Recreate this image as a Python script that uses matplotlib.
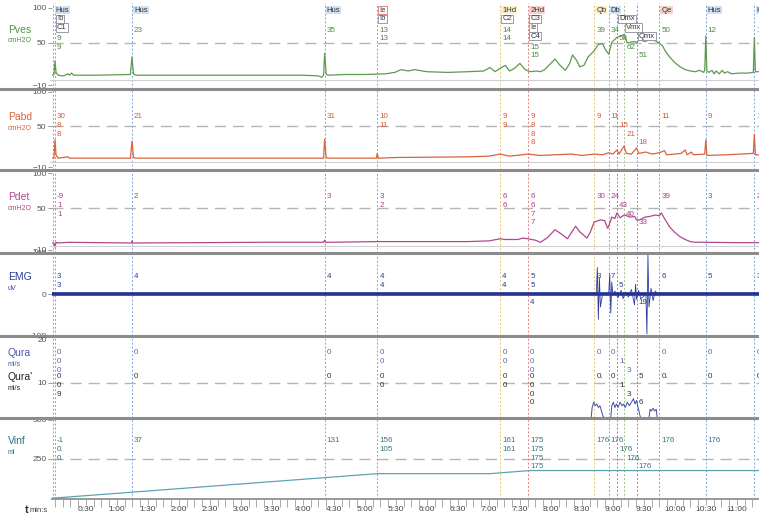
import matplotlib
matplotlib.use("Agg")
import matplotlib.pyplot as plt
from matplotlib.lines import Line2D
import matplotlib.transforms as mtransforms

plt.rcParams['font.family'] = ['Liberation Sans', 'DejaVu Sans']

W, H = 759, 517
T_MIN, T_MAX = -2.9, 681.5

# ---------------- data ----------------
pves_t = [-3, -1, 0, 1, 3, 8, 12.6, 14, 16, 18, 40, 73, 74.5, 76, 78, 120, 180, 240, 255, 258, 260, 261, 262.5, 264,
          280, 300, 320, 329, 335, 342, 348, 360, 380, 400, 415, 421, 426, 431, 436, 440, 445, 450, 455, 460, 466, 470,
          474, 478, 484, 489, 494, 498, 501, 505, 508, 512, 516, 520, 522, 526, 530, 533, 536, 539, 544, 551, 554, 560,
          563, 566, 571, 576, 580, 585, 588, 591, 595, 600, 605, 610, 615, 620, 624, 628, 629, 630, 631, 633, 636, 638,
          640, 643, 646, 648, 651, 655, 662, 670, 676, 677, 678, 681.5]
pves_v = [4, 5, 24, 8, 4, 3, 6, 4, 7, 4, 4, 5, 30, 6, 4, 4, 4, 4, 3, 1, 4, 35, 6, 4,
          5, 5, 6, 8, 12, 10, 12, 9, 8, 9, 10, 15, 9, 14, 18, 10, 14, 21, 12, 9, 10, 9,
          12, 18, 27, 18, 11, 20, 33, 25, 16, 18, 30, 36, 39, 48, 49, 40, 34, 51, 58, 62, 50, 52,
          51, 55, 52, 55, 54, 50, 46, 38, 30, 22, 16, 12, 10, 9, 11, 8, 12, 60, 10, 8, 11, 6,
          10, 6, 11, 7, 9, 6, 7, 7, 8, 58, 9, 9]

pabd_t = [-3, -1, 0, 1, 3, 12.6, 14, 73, 74.5, 76, 78, 260, 261, 262.5, 264, 311, 312, 313, 330, 400, 420, 431,
          440, 458, 470, 484, 500, 510, 522, 530, 536, 540, 544, 546, 551, 553, 558, 563, 565, 572, 578, 585,
          590, 592, 600, 606, 610, 612, 616, 618, 629, 630, 631, 650, 676, 677, 678, 681.5]
pabd_v = [3, 3, 30, 8, 3, 5, 3, 3, 28, 4, 3, 3, 31, 4, 3, 3, 10, 3, 4, 5, 6, 9,
          6, 9, 7, 8, 9, 7, 9, 8, 11, 9, 15, 9, 21, 10, 9, 18, 10, 12, 9, 11,
          14, 8, 9, 10, 15, 8, 12, 8, 9, 30, 7, 8, 10, 38, 8, 8]

pdet_t = [-3, -1, 0, 1, 3, 12.6, 74, 74.5, 75.5, 200, 260, 261, 262, 312, 330, 400, 420, 431, 436, 448, 453,
          458, 465, 470, 477, 484, 491, 496, 504, 508, 515, 518, 522, 528, 532, 535, 536, 539, 542, 544, 547,
          551, 557, 561, 563, 566, 571, 576, 581, 585, 587, 590, 595, 600, 605, 610, 615, 620, 630, 660, 681.5]
pdet_v = [0, 0, -6, 1, 0, 1, 0, 3, 0, 1, 1, 4, 1, 2, 2, 2, 3, 6, 5, 5, 7,
          6, 4, 1, 8, 19, 12, 6, 24, 16, 7, 15, 30, 33, 32, 21, 24, 37, 35, 43, 36,
          40, 37, 38, 33, 33, 37, 38, 40, 39, 43, 35, 23, 15, 9, 5, 2, 1, 1, 0.5, 0.5]

emg_t = [-3, 520, 524, 525, 526, 527, 528, 530, 536, 537, 538, 539, 540, 542, 545, 548, 550, 552, 555, 558,
         561, 562, 563, 565, 567, 572, 573, 574, 575, 577, 579, 581, 584, 681.5]
emg_v = [0, 0, 0, 65, -60, 40, -30, 0, 0, 50, -45, 30, 0, 8, -8, 10, -10, 6, -6, 12,
         -25, 25, -12, 10, -10, 0, -95, 95, -30, 15, -15, 8, 0, 0]

qura_t = [-3, 519, 520, 521.5, 523, 524.5, 526, 527.5, 529, 530.5, 532, 538, 539, 540.5, 542, 543.5, 545, 547,
          549, 550.5, 552, 554, 556, 558, 560, 561.5, 563, 564.5, 566, 567, 575, 576, 577.5, 579, 580.5, 582, 583,
          681.5]
qura_v = [0, 0, 3, 4.5, 3.5, 4, 3, 3.5, 2, 0.5, 0, 0, 3.5, 4.5, 3, 4, 3, 4.5,
          3.5, 4, 3, 4.5, 3.5, 4.5, 5.5, 4, 5, 3, 1, 0, 0, 2.5, 2, 2.8, 2, 2.5, 0,
          0]

vinf_t = [-3, 0, 312, 421, 458, 460, 681.5]
vinf_v = [0, 0, 156, 156, 175, 176, 176]

# event markers
marker_t = [-1.5, 0, 74.5, 261, 312, 431, 458, 522, 536, 544, 551, 563, 585, 630, 677]
marker_col = ['#7ea4d8', '#e38080', '#7ea4d8', '#7ea4d8', '#e38080', '#e8c36a', '#e38080', '#e8c36a',
              '#7ea4d8', '#8c8c8c', '#9cc08c', '#8c8c8c', '#e38080', '#7ea4d8', '#7ea4d8']

# marker labels: (text, time, row, style)
marker_labels = [("Hus", -1.5, 0, 'blue'), ("Ib", 0, 1, 'box'), ("C1", 0, 2, 'box'),
                 ("Hus", 74.5, 0, 'blue'), ("Hus", 261, 0, 'blue'),
                 ("Ie", 312, 0, 'red'), ("Ib", 312, 1, 'box'),
                 ("1Hd", 431, 0, 'yellow'), ("C2", 431, 1, 'box'),
                 ("2Hd", 458, 0, 'pink'), ("C3", 458, 1, 'box'), ("Ie", 458, 2, 'red'), ("C4", 458, 3, 'box'),
                 ("Qb", 522, 0, 'yellow'), ("Db", 536, 0, 'blue'),
                 ("Dmx", 544, 1, 'box'), ("Vmx", 551, 2, 'box'), ("Qmx", 563, 3, 'box'),
                 ("Qe", 585, 0, 'pink'), ("Hus", 630, 0, 'blue'), ("Hus", 677, 0, 'blue')]

ann_t = [0, 74.5, 261, 312, 431, 458, 522, 536, 585, 630, 677]
pves_ann = [["24", "9", "9"], ["23"], ["35"], ["13", "13"], ["14", "14"], ["", "", "15", "15"], ["39"], ["34"],
            ["50"], ["12"], ["12"]]
pabd_ann = [["30", "8", "8"], ["21"], ["31"], ["10", "11"], ["9", "9"], ["9", "8", "8", "8"], ["9"], ["11"],
            ["11"], ["9"], ["10"]]
pdet_ann = [["-9", "1", "1"], ["2"], ["3"], ["3", "2"], ["6", "6"], ["6", "6", "7", "7"], ["30"], ["24"],
            ["39"], ["3"], ["2"]]
emg_ann = [["3", "3"], ["4"], ["4"], ["4", "4"], ["4", "4"], ["5", "5", "", "4"], ["3"], ["7"], ["6"], ["5"], ["3"]]
qura_ann = [["0", "0", "0"], ["0"], ["0"], ["0", "0"], ["0", "0"], ["0", "0", "0"], ["0"], ["0"], ["0"], ["0"], ["0"]]
qurap_ann = [["0", "0", "9"], ["0"], ["0"], ["0", "0"], ["0", "0"], ["0", "0", "0", "0"], ["0."], ["0"], ["0."],
             ["0"], ["0"]]
vinf_ann = [["-1", "0.", "0."], ["37"], ["131"], ["156", "105"], ["161", "161"], ["175", "175", "175", "175"],
            ["176"], ["176"], ["176"], ["176"], ["17"]]

stag_t = [544, 551, 563]
pves_stag = [["", "58"], ["", "", "62"], ["", "", "", "51"]]
pabd_stag = [["", "15"], ["", "", "21"], ["", "", "", "18"]]
pdet_stag = [["", "43"], ["", "", "40"], ["", "", "", "33"]]
emg_stag = [["", "5"], [], ["", "", "", "19"]]
qura_stag = [["", "1"], ["", "", "3"], []]
qurap_stag = [["", "1"], ["", "", "3"], ["5", "", "", "6"]]
vinf_stag = [["", "176"], ["", "", "176"], ["", "", "", "176"]]

time_ticks = list(range(30, 661, 30))
time_labels = ["%d:%02d" % (s // 60, s % 60) for s in time_ticks]

# ---------------- layout ----------------
fig = plt.figure(figsize=(W / 100, H / 100), dpi=100)
X0 = 52


def add_panel(ytop, ybot):
    ax = fig.add_axes([X0 / W, 1 - ybot / H, (W - X0) / W, (ybot - ytop) / H])
    ax.set_facecolor('none')
    for s in ax.spines.values():
        s.set_visible(False)
    ax.set_xlim(T_MIN, T_MAX)
    ax.set_xticks([])
    ax.tick_params(axis='y', length=3, width=0.6, color='#888', labelsize=6, labelcolor='#555', pad=1)
    return ax


ax_pves = add_panel(3, 89)
ax_pves.set_ylim(-15.7, 107.1)
ax_pabd = add_panel(89, 170)
ax_pabd.set_ylim(-14.3, 104.3)
ax_pdet = add_panel(170, 253)
ax_pdet.set_ylim(-14.3, 104.3)
ax_emg = add_panel(253, 336)
ax_emg.set_ylim(-100, 100)
ax_q = add_panel(336, 418)
ax_q.set_ylim(0, 23.4)
ax_v = add_panel(418, 499)
ax_v.set_ylim(-6.4, 512.8)

for ax in (ax_pves, ax_pabd, ax_pdet):
    ax.set_yticks([-10, 50, 100])
    ax.axhline(50, color='#b5b5b5', lw=1.0, ls=(0, (8, 5)), zorder=1)
ax_emg.set_yticks([-100, 0, 100])
ax_q.set_yticks([10])
ax_q.axhline(10, color='#b5b5b5', lw=1.0, ls=(0, (8, 5)), zorder=1)
ax_v.set_yticks([250, 500])
ax_v.axhline(250, color='#b5b5b5', lw=1.0, ls=(0, (8, 5)), zorder=1)
fig.text(X0 / W - 0.006, 1 - 341 / H, "20", fontsize=6, color='#555', ha='right', va='center')

# event lines
for ax in (ax_pves, ax_pabd, ax_pdet, ax_emg, ax_q, ax_v):
    for t, c in zip(marker_t, marker_col):
        ax.axvline(t, color=c, lw=0.7, ls=(0, (2, 2)), zorder=1)

# traces
ax_pves.plot(pves_t, pves_v, color='#5e9a4c', lw=0.9, zorder=3)
ax_pabd.plot(pabd_t, pabd_v, color='#d9643e', lw=0.9, zorder=3)
ax_pdet.plot(pdet_t, pdet_v, color='#b2478f', lw=0.9, zorder=3)
ax_emg.axhline(0, color='#1f2d8c', lw=2.6, zorder=3)
ax_emg.plot(emg_t, emg_v, color='#2c3c9c', lw=0.6, zorder=3)
ax_q.plot(qura_t, qura_v, color='#3e4ea6', lw=0.7, zorder=3)
ax_v.plot(vinf_t, vinf_v, color='#5fa0b4', lw=0.9, zorder=3)

# time axis
ax_v.spines['bottom'].set_visible(True)
ax_v.spines['bottom'].set_color('#999')
ax_v.spines['bottom'].set_linewidth(1.4)
ax_v.set_xticks(time_ticks)
ax_v.set_xticklabels(time_labels)
ax_v.set_xticks([t * 7.5 for t in range(0, 91)], minor=True)
ax_v.tick_params(axis='x', which='major', length=4.5, width=0.7, color='#aaa', labelsize=6, labelcolor='#444', pad=0.5)
ax_v.tick_params(axis='x', which='minor', length=5.5, width=0.7, color='#aaa')
fig.text(25 / W, 1 - 510 / H, "t", fontsize=8, fontweight='bold', color='#333', ha='left', va='center')
fig.text(30 / W, 1 - 510 / H, "min:s", fontsize=5.5, color='#444', ha='left', va='center')

# separators
for y in (89, 170, 253, 336, 418):
    fig.add_artist(Line2D([0, 1], [1 - y / H, 1 - y / H], transform=fig.transFigure, color='#8c8c8c', lw=2.2))
for y in (80, 162, 246):
    fig.add_artist(Line2D([50 / W, 1], [1 - y / H, 1 - y / H], transform=fig.transFigure, color='#d0d0d0', lw=0.8))

# channel names
names = [("Pves", "cmH2O", 30, '#4f9440'), ("Pabd", "cmH2O", 117, '#d9643e'), ("Pdet", "cmH2O", 197, '#b2478f'),
         ("EMG", "uV", 277, '#2c3c9c'), ("Qura", "ml/s", 353, '#4a56b0'), ("Qura'", "ml/s", 377, '#222'),
         ("Vinf", "ml", 441, '#2f6f80')]
for nm, unit, y, c in names:
    fig.text(8 / W, 1 - y / H, nm, fontsize=7.5, color=c, ha='left', va='center')
    fig.text(8 / W, 1 - (y + 11) / H, unit, fontsize=5, color=c, ha='left', va='center')

blend = mtransforms.blended_transform_factory(ax_pves.transData, fig.transFigure)

# marker labels
styles = {'blue': dict(fc='#cfe0f2', ec='none'), 'box': dict(fc='white', ec='#8a8aa0'),
          'red': dict(fc='white', ec='#e07070'), 'yellow': dict(fc='#fbeecb', ec='none'),
          'pink': dict(fc='#f7d2cc', ec='none')}
row_y = [10, 19, 27.5, 36]
for txt, t, row, st in marker_labels:
    fig.text(t + 2.0, 1 - row_y[row] / H, txt, transform=blend, fontsize=5.5, color='#333', ha='left',
             va='center', zorder=5,
             bbox=dict(boxstyle='square,pad=0.12', lw=0.6, **styles[st]))

# value annotations
LS = 8.6
channel_rows = [(pves_ann, pves_stag, 30, '#4f8a3e'), (pabd_ann, pabd_stag, 117, '#d45a34'),
                (pdet_ann, pdet_stag, 197, '#aa4088'), (emg_ann, emg_stag, 277, '#2c3c8c'),
                (qura_ann, qura_stag, 353, '#5a64b4'), (qurap_ann, qurap_stag, 377, '#333'),
                (vinf_ann, vinf_stag, 441, '#3a7484')]
for ann, stag, y0, c in channel_rows:
    for t, vals in zip(ann_t, ann):
        for i, s in enumerate(vals):
            if s:
                fig.text(t + 2.0, 1 - (y0 + i * LS) / H, s, transform=blend, fontsize=5.8, color=c,
                         ha='left', va='center')
    for t, vals in zip(stag_t, stag):
        for i, s in enumerate(vals):
            if s:
                fig.text(t + 2.0, 1 - (y0 + i * LS) / H, s, transform=blend, fontsize=5.8, color=c,
                         ha='left', va='center')

fig.savefig("out.png", dpi=100, facecolor='white')
